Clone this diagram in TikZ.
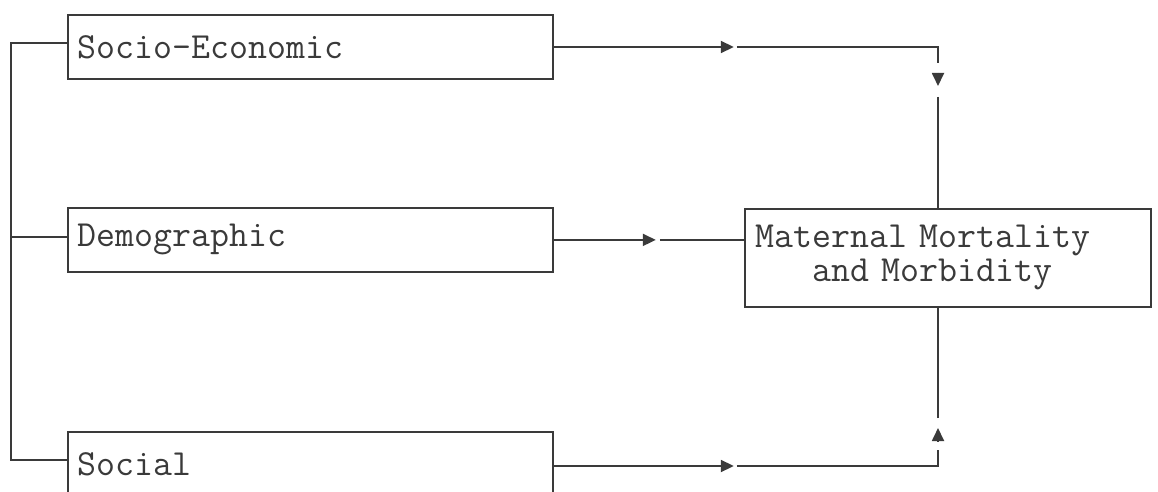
\documentclass[tikz,border=0pt]{standalone}
\usepackage{fontspec}
\usetikzlibrary{arrows.meta,calc}
\definecolor{ink}{HTML}{3A3A3A}
\tikzset{
  wire/.style={draw=ink,line width=1.8pt},
  tip/.style={wire,-{Triangle[length=13pt,width=12pt]}},
  label font/.style={font=\fontsize{36.8}{34}\selectfont\ttfamily,text=ink},
  factor/.style={draw=ink,line width=1.8pt,anchor=north west,label font,
    minimum height=64pt,text width=465pt,inner xsep=10pt,inner ysep=0pt,align=left},
  outcome/.style={draw=ink,line width=1.8pt,anchor=north west,label font,
    minimum height=98pt,text width=384pt,inner xsep=11pt,align=left}
}
\begin{document}
\begin{tikzpicture}[x=1pt,y=-1pt]
\useasboundingbox[fill=white] (0,0) rectangle (1158,492);

% factor boxes
\node[factor] (se) at (67,14)  {Socio-Economic};
\node[factor] (dm) at (67,207) {Demographic};
\node[factor] (so) at (67,431) {Social};

% outcome box
\node[outcome] (mm) at (744,208) {Maternal Mortality\\\hphantom{and}and Morbidity};

% helper coordinates
\coordinate (bx) at (11,0);      % left bracket
\coordinate (cx) at (938,0);     % right collector
\coordinate (ytop) at (0,43);
\coordinate (ymid) at (0,237);
\coordinate (ybot) at (0,460);
\coordinate (y1) at (0,47);
\coordinate (y3) at (0,466);

% left bracket joining the three factors
\draw[wire] (se.west |- ytop) -- (bx |- ytop) -- (bx |- ybot) -- (so.west |- ybot);
\draw[wire] (bx |- ymid) -- (dm.west |- ymid);

% socio-economic -> outcome
\draw[tip] (se.east |- y1) -- ($(se.east |- y1)+(180,0)$) coordinate (h1);
\draw[wire] ($(h1)+(3,0)$) -- (cx |- y1) -- ($(cx |- y1)+(0,16)$) coordinate (v1);
\draw[tip,shorten <=10pt] (v1) -- ++(0,23) coordinate (v1t);
\draw[wire] ($(v1t)+(0,11)$) -- (cx |- mm.north);

% demographic -> outcome
\draw[tip] (dm.east) -- ($(dm.east)+(102,0)$) coordinate (h2);
\draw[wire] ($(h2)+(4,0)$) -- (mm.west |- dm.east);

% social -> outcome
\draw[tip] (so.east |- y3) -- ($(so.east |- y3)+(180,0)$) coordinate (h3);
\draw[wire] ($(h3)+(3,0)$) -- (cx |- y3) -- ($(cx |- y3)+(0,-16)$) coordinate (v3);
\draw[tip,shorten <=9pt] (v3) -- ++(0,-22) coordinate (v3t);
\draw[wire] ($(v3t)+(0,-10)$) -- (cx |- mm.south);
\end{tikzpicture}
\end{document}
